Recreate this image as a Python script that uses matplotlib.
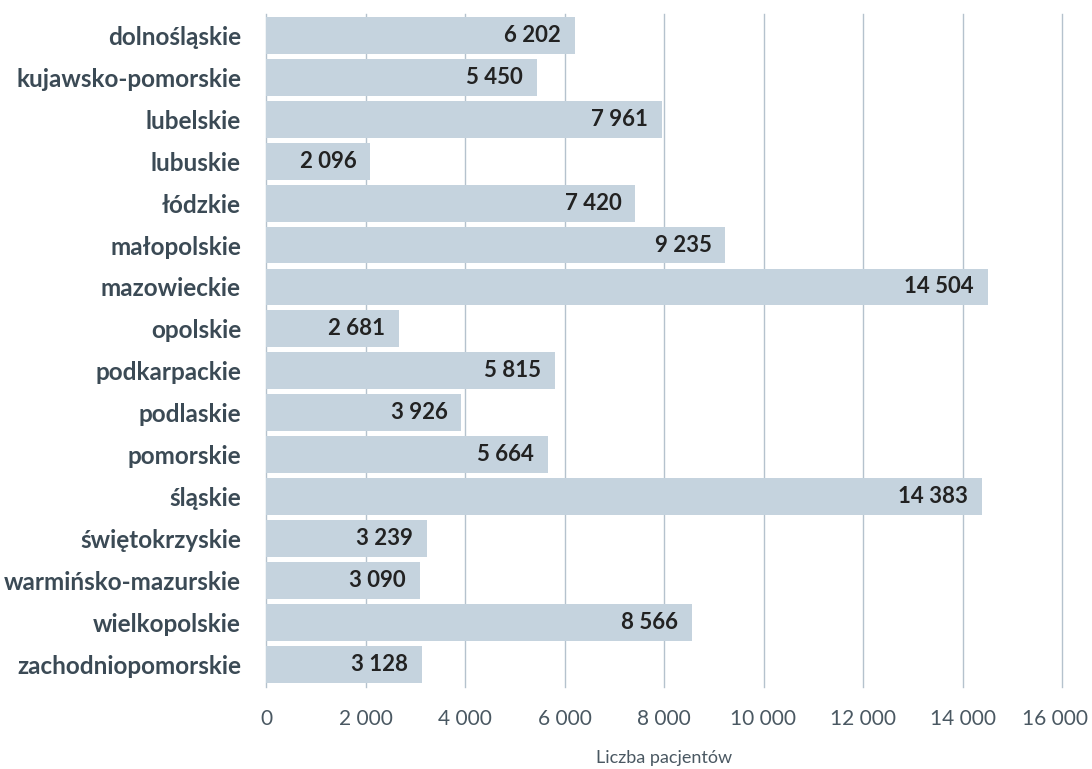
import matplotlib.pyplot as plt
import matplotlib.transforms as mtransforms
from matplotlib.ticker import FuncFormatter

plt.rcParams['font.family'] = ['Lato', 'DejaVu Sans']

regions = ['dolnośląskie', 'kujawsko-pomorskie', 'lubelskie', 'lubuskie', 'łódzkie',
           'małopolskie', 'mazowieckie', 'opolskie', 'podkarpackie', 'podlaskie',
           'pomorskie', 'śląskie', 'świętokrzyskie', 'warmińsko-mazurskie',
           'wielkopolskie', 'zachodniopomorskie']
patients = [6202, 5450, 7961, 2096, 7420, 9235, 14504, 2681, 5815, 3926,
            5664, 14383, 3239, 3090, 8566, 3128]
xticks = [0, 2000, 4000, 6000, 8000, 10000, 12000, 14000, 16000]


def fmt(v, pos=None):
    return f'{int(v):,}'.replace(',', ' ')


fig = plt.figure(figsize=(10.92, 7.69), dpi=100)
ax = fig.add_axes([266 / 1092, 82 / 769, 796 / 1092, 673 / 769])

y = list(range(len(regions)))
ax.barh(y, patients, height=0.88, color='#c5d3de', zorder=2)

for yi, v in zip(y, patients):
    ax.annotate(fmt(v), (v, yi), xytext=(-10, 0), textcoords='offset points',
                ha='right', va='center', fontsize=16, fontweight='bold',
                color='#222222', zorder=3)

ax.set_xlim(0, 16000)
ax.set_ylim(len(regions) - 0.46, -0.51)
ax.set_xticks(xticks)
ax.xaxis.set_major_formatter(FuncFormatter(fmt))
ax.set_yticks(y)
ax.set_yticklabels(regions, fontsize=17.5, fontweight='bold', color='#3b4a55')
ax.tick_params(axis='y', length=0, pad=18)
ax.tick_params(axis='x', length=0, pad=16, labelsize=15, labelcolor='#4a5862')
ax.grid(axis='x', color='#b5c2cd', linewidth=1, zorder=1)
for line in ax.get_xgridlines():
    line.set_clip_on(False)
for s in ax.spines.values():
    s.set_visible(False)

# pull the last tick label in so it stays inside the figure
last = ax.get_xticklabels()[-1]
last.set_transform(last.get_transform() +
                   mtransforms.ScaledTranslation(-7 / 100, 0, fig.dpi_scale_trans))

ax.set_xlabel('Liczba pacjentów', fontsize=13, color='#4a5862', labelpad=15)

fig.savefig('out.png', dpi=100)
